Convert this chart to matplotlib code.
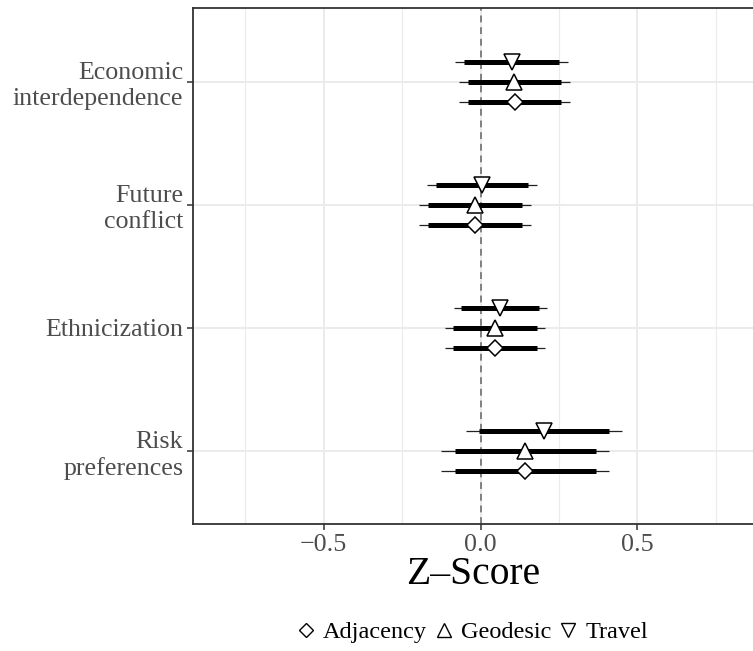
import numpy as np
import matplotlib.pyplot as plt
from matplotlib.lines import Line2D

plt.rcParams['font.family'] = ['Liberation Serif', 'DejaVu Serif']

# categories, top to bottom
categories = ["Economic\ninterdependence", "Future\nconflict", "Ethnicization", "Risk\npreferences"]
models = ["Travel", "Geodesic", "Adjacency"]

# point estimates per model (rows follow categories)
est_travel = [0.099, 0.004, 0.062, 0.202]
est_geodesic = [0.107, -0.018, 0.046, 0.142]
est_adjacency = [0.109, -0.018, 0.046, 0.142]

# inner (thick) intervals
lo90_travel = [-0.053, -0.143, -0.061, -0.006]
hi90_travel = [0.249, 0.150, 0.187, 0.410]
lo90_geodesic = [-0.039, -0.168, -0.088, -0.081]
hi90_geodesic = [0.255, 0.133, 0.179, 0.367]
lo90_adjacency = [-0.039, -0.168, -0.088, -0.081]
hi90_adjacency = [0.255, 0.133, 0.179, 0.367]

# outer (thin) intervals
lo95_travel = [-0.080, -0.170, -0.085, -0.045]
hi95_travel = [0.278, 0.179, 0.211, 0.451]
lo95_geodesic = [-0.068, -0.197, -0.113, -0.126]
hi95_geodesic = [0.284, 0.162, 0.205, 0.410]
lo95_adjacency = [-0.068, -0.197, -0.113, -0.126]
hi95_adjacency = [0.284, 0.162, 0.205, 0.410]

series = {
    "Travel": (est_travel, lo90_travel, hi90_travel, lo95_travel, hi95_travel, 'v', 11.5, 0.163),
    "Geodesic": (est_geodesic, lo90_geodesic, hi90_geodesic, lo95_geodesic, hi95_geodesic, '^', 11.5, 0.0),
    "Adjacency": (est_adjacency, lo90_adjacency, hi90_adjacency, lo95_adjacency, hi95_adjacency, 'D', 8.2, -0.163),
}

fig = plt.figure(figsize=(7.53, 6.51), dpi=100)
ax = fig.add_axes([0.2563, 0.1951, 0.7437, 0.7926])

ypos = np.arange(len(categories))[::-1] + 1.0

ax.axvline(0, color='#808080', lw=1.4, ls=(0, (3.5, 2.5)), zorder=1)

for name in models:
    est, lo90, hi90, lo95, hi95, mk, ms, off = series[name]
    y = ypos + off
    ax.hlines(y, lo95, hi95, color='#222222', lw=0.9, zorder=2)
    ax.hlines(y, lo90, hi90, color='black', lw=3.6, zorder=3)
    ax.plot(est, y, ls='none', marker=mk, ms=ms, mfc='white', mec='black', mew=1.1, zorder=4)

ax.set_xlim(-0.916, 0.868)
ax.set_ylim(0.407, 4.60)
ax.set_yticks(ypos)
ax.set_yticklabels(categories, fontsize=18.7, color='#4d4d4d', linespacing=1.2)
ax.set_xticks([-0.5, 0.0, 0.5])
ax.set_xticklabels(['\u22120.5', '0.0', '0.5'], fontsize=18.7, color='#4d4d4d')
ax.set_xticks([-0.75, -0.25, 0.25, 0.75], minor=True)
ax.tick_params(axis='x', which='minor', length=0)
ax.tick_params(axis='both', which='major', length=4, width=1.1, color='#333333', pad=3)
ax.grid(True, which='major', color='#ebebeb', lw=1.4, zorder=0)
ax.grid(True, which='minor', axis='x', color='#ebebeb', lw=0.8, zorder=0)
ax.set_axisbelow(True)
ax.set_xlabel('Z\u2013Score', fontsize=28.5, labelpad=0)

for side in ['left', 'bottom', 'top']:
    ax.spines[side].set_color('#333333')
    ax.spines[side].set_linewidth(1.3)
ax.spines['right'].set_visible(False)

handles = [
    Line2D([], [], ls='none', marker='D', ms=7, mfc='white', mec='black', mew=1.0, label='Adjacency'),
    Line2D([], [], ls='none', marker='^', ms=10, mfc='white', mec='black', mew=1.0, label='Geodesic'),
    Line2D([], [], ls='none', marker='v', ms=10, mfc='white', mec='black', mew=1.0, label='Travel'),
]
fig.legend(handles=handles, loc='center', bbox_to_anchor=(0.627, 0.029), ncol=3, frameon=False,
           fontsize=17.5, handlelength=0.8, handletextpad=0.3, columnspacing=0.3)

fig.savefig('out.png', dpi=100)
